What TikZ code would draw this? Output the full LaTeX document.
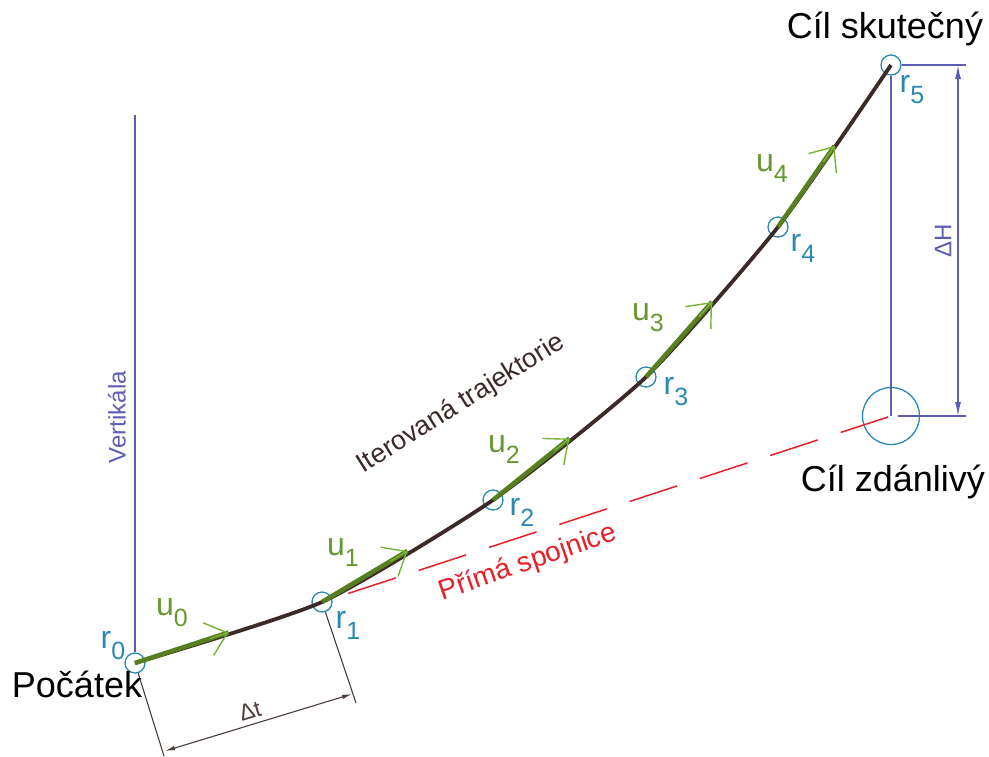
\documentclass[tikz,border=0pt]{standalone}
\usepackage{fontspec}
\setmainfont{Liberation Sans}
\usetikzlibrary{arrows.meta,calc}

\definecolor{trajbrown}{HTML}{3B2A27}
\definecolor{ugreen}{HTML}{587F1F}
\definecolor{ulight}{HTML}{78B238}
\definecolor{rteal}{HTML}{2A89AE}
\definecolor{vblue}{HTML}{5D5DB3}
\definecolor{pred}{HTML}{E8202A}
\definecolor{dimgray}{HTML}{4A3C39}

\newcommand{\fs}[1]{\fontsize{#1}{#1}\selectfont}
\newcommand{\idx}[2]{#1\raisebox{-5.5pt}{\fs{12.5}#2}}

\tikzset{
  pt/.style={circle,draw=rteal,line width=0.65pt,minimum size=10pt,inner sep=0pt},
  target/.style={circle,draw=rteal,line width=0.65pt,minimum size=28.5pt,inner sep=0pt},
  traj/.style={draw=trajbrown,line width=1.9pt},
  useg/.style={draw=ugreen,line width=2.3pt},
  uarr/.style={draw=ulight,line width=0.7pt,-{Straight Barb[length=10pt,width=17pt]}},
  vline/.style={draw=vblue,line width=0.6pt},
  dimline/.style={draw=dimgray,line width=0.55pt},
  prima/.style={draw=pred,line width=0.75pt,dash pattern=on 25pt off 12pt},
  rlab/.style={text=rteal,inner sep=0pt,font=\fs{16}},
  ulab/.style={text=ulight!85!black,inner sep=0pt,font=\fs{16}},
  biglab/.style={inner sep=0pt,font=\fs{18},anchor=base}
}

\begin{document}
\begin{tikzpicture}[x=0.5pt,y=-0.5pt]
\useasboundingbox (0,0) rectangle (989,756);

% body of the trajectory
\node[pt] (r0) at (135,663) {};
\node[pt] (r1) at (322,602) {};
\node[pt] (r2) at (493,500) {};
\node[pt] (r3) at (646,377) {};
\node[pt] (r4) at (778,227) {};
\node[pt] (r5) at (891,65) {};
\node[target] (zd) at (891,416) {};

% vertical and straight line
\coordinate (vtop) at (135,115);
\draw[vline] (vtop) -- (r0);
\draw[prima,shorten <=8.5pt] (r1) -- (zd.center);

\draw[traj] plot[smooth,tension=0.35] coordinates {(r0.center) (r1.center) (r2.center) (r3.center) (r4.center) (r5.center)};

\foreach \a/\b in {0/1,1/2,2/3,3/4,4/5} {
  \coordinate (m\a) at ($(r\a.center)!0.5!(r\b.center)$);
  \draw[useg] (r\a.center) -- (m\a);
  \draw[uarr] ($(r\a.center)!0.4!(r\b.center)$) -- (m\a);
}

% height difference
\coordinate (hT) at (958,65);
\coordinate (hB) at (958,416);
\coordinate (hT2) at (966,65);
\coordinate (hB1) at (898,416);
\coordinate (hB2) at (966,416);
\draw[vline] (r5) -- (hT2);
\draw[vline] (hB1) -- (hB2);
\draw[vline] (r5) -- (zd.center);
\draw[vline,{Latex[length=7pt,width=3pt]}-{Latex[length=7pt,width=3pt]}] (hT) -- (hB);

% time step
\coordinate (e0) at (164,756);
\coordinate (e1) at (356,703);
\coordinate (t0) at (165,751);
\coordinate (t1) at (352,694);
\draw[dimline] (r0) -- (e0);
\draw[dimline] (r1) -- (e1);
\draw[dimline,{Latex[length=5pt,width=2.2pt]}-{Latex[length=5pt,width=2.2pt]}] (t0) -- (t1);

% labels
\node[rlab] (lr0) at (113,645) {\idx{r}{0}};
\node[rlab] (lr1) at (348,625) {\idx{r}{1}};
\node[rlab] (lr2) at (522,512) {\idx{r}{2}};
\node[rlab] (lr3) at (676,392) {\idx{r}{3}};
\node[rlab] (lr4) at (803,248) {\idx{r}{4}};
\node[rlab] (lr5) at (912,90) {\idx{r}{5}};
\node[ulab] (lu0) at (172,613) {\idx{u}{0}};
\node[ulab] (lu1) at (343,553) {\idx{u}{1}};
\node[ulab] (lu2) at (504,450) {\idx{u}{2}};
\node[ulab] (lu3) at (648,318) {\idx{u}{3}};
\node[ulab] (lu4) at (772,169) {\idx{u}{4}};

\node[biglab] (poc) at (77,697) {Počátek};
\node[biglab] (sk) at (885,38) {Cíl skutečný};
\node[biglab] (zdl) at (893,491) {Cíl zdánlivý};

\node[text=vblue,font=\fs{12},rotate=90,inner sep=0pt] (vert) at (117,417) {Vertikála};
\node[text=vblue,font=\fs{12},rotate=90,inner sep=0pt] (dh) at (943,241) {ΔH};
\node[text=dimgray,font=\fs{11.5},rotate=17,inner sep=0pt] (dt) at (250,711) {Δt};
\node[text=trajbrown,font=\fs{13.5},rotate=32,inner sep=0pt] (it) at (461,404) {Iterovaná trajektorie};
\node[text=pred,font=\fs{14},rotate=19,inner sep=0pt] (ps) at (528,563) {Přímá spojnice};
\end{tikzpicture}
\end{document}
